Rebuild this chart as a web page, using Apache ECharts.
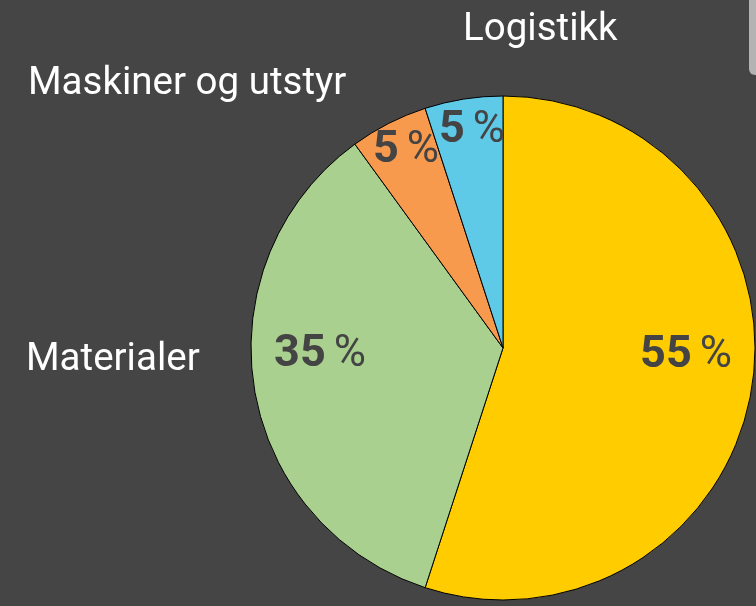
<!DOCTYPE html>
<html>

<head>
  <meta charset="utf-8">
  <script src="https://cdn.jsdelivr.net/npm/echarts@6.0.0/dist/echarts.min.js"></script>
  <style>
    html, body {
      margin: 0;
      padding: 0;
      background: #454545;
    }
    #chart {
      width: 756px;
      height: 606px;
    }
  </style>
</head>

<body>
  <div id="chart"></div>
  <script>
    // data (clockwise from 12 o'clock)
    const categories = ['Leverandør', 'Materialer', 'Maskiner og utstyr', 'Logistikk']
    const values = [55, 35, 5, 5]
    const showName = [false, true, true, true]
    const colors = ['#FFCC00', '#A9D08E', '#F79A4E', '#5FC9E8']

    // label spots (value label, name label)
    const valuePos = [[686, 356], [320, 355], [406, 151], [472, 131]]
    const namePos = [[0, 0], [26, 360], [28, 84], [463, 30]]

    const center = [503, 348]
    const radius = 252

    const option = {
      backgroundColor: '#454545',
      animation: false,
      color: colors,
      graphic: [{
        type: 'rect',
        shape: { x: 749, y: -10, width: 12, height: 85, r: 6 },
        style: { fill: '#b3b3b3' }
      }],
      series: [{
          // slices with the percentage inside
          type: 'pie',
          center: center,
          radius: radius,
          startAngle: 90,
          itemStyle: { borderColor: '#000', borderWidth: 1 },
          label: {
            position: 'inside',
            formatter: p => '{n|' + p.value + '}{p|%}',
            rich: {
              n: { fontFamily: 'Roboto', fontWeight: 'bold', fontSize: 45, color: '#444' },
              p: { fontFamily: 'Roboto', fontWeight: 'normal', fontSize: 44, color: '#444', padding: [0, 0, 0, 8] }
            }
          },
          labelLine: { show: false },
          labelLayout: p => ({
            x: valuePos[p.dataIndex][0],
            y: valuePos[p.dataIndex][1],
            align: 'center',
            verticalAlign: 'middle'
          }),
          data: categories.map((c, i) => ({ name: c, value: values[i] }))
        },
        {
          // same slices, only carrying the category names outside
          type: 'pie',
          silent: true,
          center: center,
          radius: radius,
          startAngle: 90,
          itemStyle: { color: 'transparent' },
          label: {
            position: 'outside',
            formatter: '{b}',
            fontFamily: 'Roboto',
            fontSize: 38.5,
            color: '#fff',
            overflow: 'none'
          },
          labelLine: { show: false },
          labelLayout: p => ({
            x: namePos[p.dataIndex][0],
            y: namePos[p.dataIndex][1],
            align: 'left',
            verticalAlign: 'middle'
          }),
          data: categories.map((c, i) => ({
            name: c,
            value: values[i],
            label: { show: showName[i] }
          }))
        }
      ]
    }

    const chart = echarts.init(document.getElementById('chart'))
    chart.setOption(option)
  </script>
</body>

</html>
